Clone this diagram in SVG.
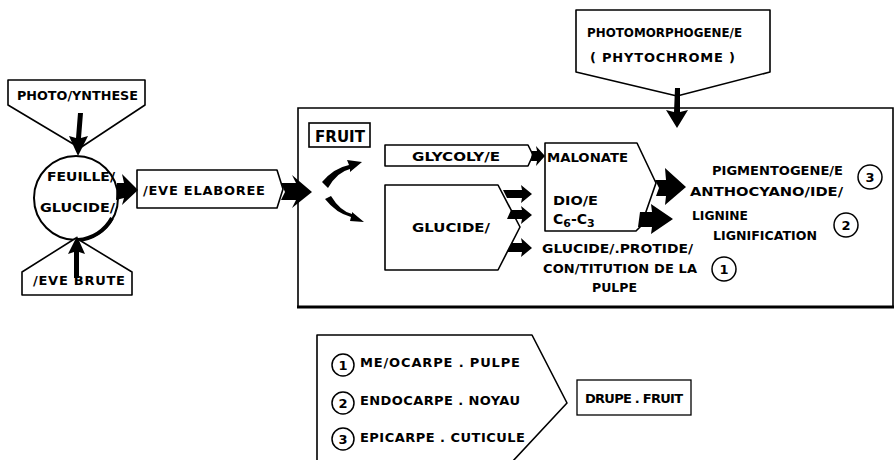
<svg xmlns="http://www.w3.org/2000/svg" width="895" height="460" viewBox="0 0 895 460">
<style>
.ln{fill:#fff;stroke:#000;stroke-width:1.6;stroke-linejoin:round}
.t{font-family:"DejaVu Sans","Liberation Sans",Arial,sans-serif;font-weight:bold;font-size:13px;fill:#000}
.c{text-anchor:middle}
.r{text-anchor:end}
.blk{fill:#000;stroke:none}
.num{fill:#fff;stroke:#000;stroke-width:1.5}
</style>
<rect width="895" height="460" fill="#fff"/>

<g id="photosynthese">
<path class="ln" d="M8,80 L145,80 L145,105 L80,148 L8,105 Z"/>
<text class="t" x="17" y="100" textLength="121" lengthAdjust="spacingAndGlyphs">PHOTO/YNTHESE</text>
</g>

<g id="feuilles">
<circle cx="76" cy="198" r="42" fill="#fff" stroke="#000" stroke-width="2"/>
<path d="M112,218 A42,42 0 0 1 78,240" fill="none" stroke="#000" stroke-width="4"/>
<text class="t" x="47" y="181" textLength="68" lengthAdjust="spacingAndGlyphs">FEUILLE/</text>
<text class="t" x="40" y="212" textLength="75" lengthAdjust="spacingAndGlyphs">GLUCIDE/</text>
</g>

<g id="seve-brute">
<path class="ln" d="M22,272 L76,238 L132,272 L132,295 L22,295 Z"/>
<text class="t" x="33" y="285" textLength="92" lengthAdjust="spacing">/EVE  BRUTE</text>
</g>

<g id="seve-elaboree">
<path class="ln" d="M137,170 L277,170 L283,189 L277,208 L137,208 Z"/>
<text class="t" x="143" y="195" textLength="122" lengthAdjust="spacing">/EVE  ELABOREE</text>
</g>

<g id="photomorphogenese">
<path class="ln" d="M576,10 L770,10 L770,72 L677,96 L576,72 Z"/>
<text class="t" x="587" y="37" textLength="155" lengthAdjust="spacingAndGlyphs">PHOTOMORPHOGENE/E</text>
<text class="t" x="590" y="62" textLength="145" lengthAdjust="spacing">( PHYTOCHROME )</text>
</g>

<g id="fruit-frame">
<path d="M298,307 L298,108 L893,108 L893,307" fill="none" stroke="#000" stroke-width="1.6"/>
<line x1="297" y1="307" x2="894" y2="307" stroke="#000" stroke-width="3"/>
</g>

<g id="fruit-label">
<rect x="309" y="123" width="61" height="24" fill="#fff" stroke="#000" stroke-width="1.6"/>
<text class="t" x="315" y="142" style="font-size:15px" textLength="50" lengthAdjust="spacingAndGlyphs">FRUIT</text>
</g>

<g id="glycolyse">
<path class="ln" d="M385,145 L528,145 L533,155 L528,166 L385,166 Z"/>
<text class="t" x="412" y="161" textLength="88" lengthAdjust="spacingAndGlyphs">GLYCOLY/E</text>
</g>

<g id="glucides">
<path class="ln" d="M385,185 L498,185 L520,227 L498,270 L385,270 Z"/>
<text class="t" x="412" y="232" textLength="78" lengthAdjust="spacingAndGlyphs">GLUCIDE/</text>
</g>

<g id="malonate">
<path class="ln" d="M545,143 L637,143 L656,183 L641,226 L636,231 L545,231 Z"/>
<text class="t" x="547" y="162" textLength="81" lengthAdjust="spacingAndGlyphs">MALONATE</text>
<text class="t" x="553" y="205" textLength="45" lengthAdjust="spacingAndGlyphs">DIO/E</text>
<text class="t" x="553" y="224" style="font-size:14px">C<tspan dy="3" font-size="11">6</tspan><tspan dy="-3">-C</tspan><tspan dy="3" font-size="11">3</tspan></text>
</g>

<g id="products">
<text class="t" x="712" y="175" textLength="131" lengthAdjust="spacingAndGlyphs">PIGMENTOGENE/E</text>
<text class="t" x="690" y="196" textLength="153" lengthAdjust="spacingAndGlyphs">ANTHOCYANO/IDE/</text>
<circle class="num" cx="870" cy="177" r="12"/>
<text class="t c" x="870" y="182">3</text>
<text class="t" x="692" y="220" textLength="56" lengthAdjust="spacingAndGlyphs">LIGNINE</text>
<text class="t" x="713" y="240" textLength="104" lengthAdjust="spacingAndGlyphs">LIGNIFICATION</text>
<circle class="num" cx="846" cy="225" r="12"/>
<text class="t c" x="846" y="230">2</text>
<text class="t" x="542" y="253" textLength="151" lengthAdjust="spacingAndGlyphs">GLUCIDE/.PROTIDE/</text>
<text class="t" x="543" y="273" textLength="154" lengthAdjust="spacing">CON/TITUTION DE LA</text>
<text class="t" x="592" y="292" textLength="45" lengthAdjust="spacingAndGlyphs">PULPE</text>
<circle class="num" cx="724" cy="269" r="12"/>
<text class="t c" x="724" y="274">1</text>
</g>

<g id="fruit-parts">
<path class="ln" d="M317,335 L532,335 L567,403 L512,462 L317,462 Z"/>
<circle class="num" cx="343" cy="365" r="11"/>
<text class="t c" x="343" y="370">1</text>
<text class="t" x="360" y="367" textLength="160" lengthAdjust="spacing">ME/OCARPE  .  PULPE</text>
<circle class="num" cx="343" cy="403" r="11"/>
<text class="t c" x="343" y="408">2</text>
<text class="t" x="360" y="405" textLength="160" lengthAdjust="spacing">ENDOCARPE  .  NOYAU</text>
<circle class="num" cx="343" cy="439" r="11"/>
<text class="t c" x="343" y="444">3</text>
<text class="t" x="360" y="442" textLength="165" lengthAdjust="spacing">EPICARPE  .  CUTICULE</text>
</g>

<g id="drupe">
<rect x="577" y="380" width="114" height="35" fill="#fff" stroke="#000" stroke-width="1.3"/>
<text class="t" x="585" y="403" textLength="98" lengthAdjust="spacing">DRUPE . FRUIT</text>
</g>

<g id="connectors">
<path class="blk" d="M78,113 L83,113 L81,138 L88,136 L78,156 L69,136 L76,138 Z"/>
<path class="blk" d="M74,278 L79,278 L79,252 L85,254 L77,236 L68,254 L74,252 Z"/>
<path class="blk" d="M117,183 L124,183 L122,174 L138,190 L122,205 L124,198 L116,200 Z"/>
<path class="blk" d="M281,183 L296,183 L292,175 L312,192 L292,208 L296,200 L281,200 L285,192 Z"/>
<path class="blk" d="M322,182 Q334,168 349,165 L347,160 L362,162 L350,172 L350,169 Q337,172 328,188 Z"/>
<path class="blk" d="M325,199 Q336,213 351,217 L350,221 L364,222 L352,212 L352,214 Q340,211 331,196 Z"/>
<path class="blk" d="M675,88 L680,88 L680,112 L688,110 L677,128 L666,110 L674,112 Z"/>
<path class="blk" d="M532,151 L537,151 L536,146 L545,156 L536,166 L537,161 L531,161 Z"/>
<path class="blk" d="M503,190 L522,190 L521,185 L532,194 L521,203 L522,198 L507,198 Z"/>
<path class="blk" d="M511,210 L522,210 L521,206 L532,215 L521,224 L522,219 L507,219 Z"/>
<path class="blk" d="M512,243 L522,243 L521,238 L532,248 L521,257 L522,252 L507,252 Z"/>
<path class="blk" d="M655,180 L666,180 L665,168 L686,187 L665,205 L666,196 L656,196 L659,188 Z"/>
<path class="blk" d="M640,212 L652,212 L651,204 L673,219 L651,234 L652,227 L638,227 Z"/>
</g>
</svg>
